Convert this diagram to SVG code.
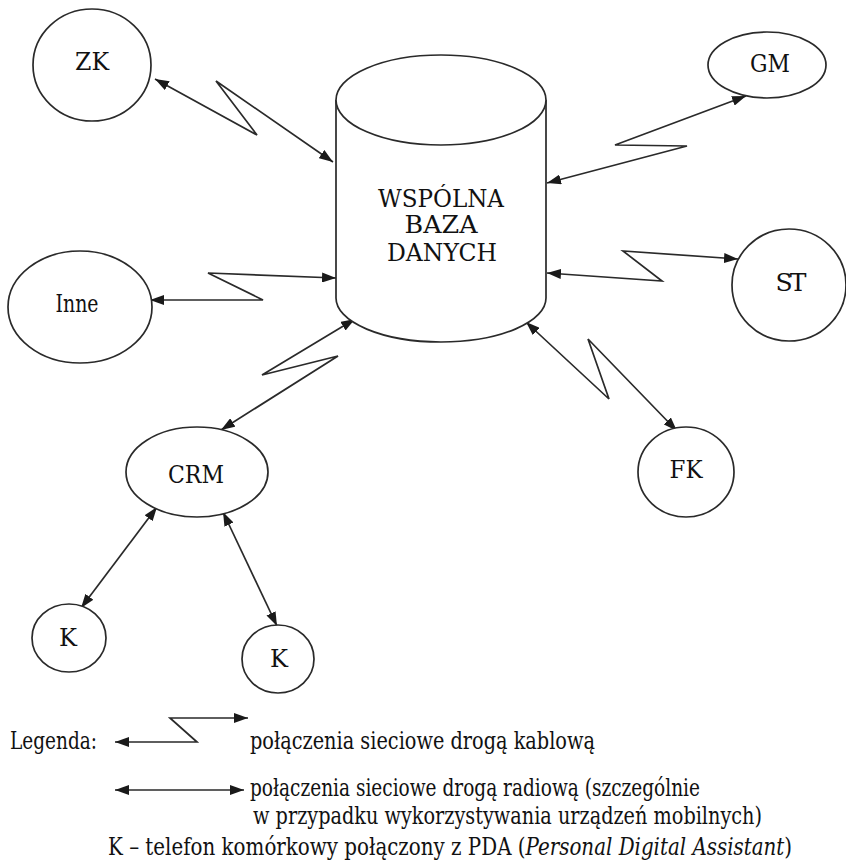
<svg xmlns="http://www.w3.org/2000/svg" width="846" height="861" viewBox="0 0 846 861">
  <style>
    .node { fill: #ffffff; stroke: #2a2a2a; stroke-width: 1.7; }
    .lbl { font-family: "DejaVu Serif", "Liberation Serif", serif; font-size: 25px; fill: #111111; text-anchor: middle; }
    .leg { font-family: "DejaVu Serif", "Liberation Serif", serif; font-size: 24px; fill: #111111; }
    .link { fill: none; stroke: #2a2a2a; stroke-width: 1.7; stroke-linejoin: miter; marker-start: url(#tip); marker-end: url(#tip); }
  </style>
  <defs>
    <marker id="tip" viewBox="0 0 14 10" refX="14" refY="5" markerWidth="14" markerHeight="10" markerUnits="userSpaceOnUse" orient="auto-start-reverse">
      <path d="M0,0 L14,5 L0,10 Z" fill="#1a1a1a"/>
    </marker>
  </defs>
  <rect width="846" height="861" fill="#ffffff"/>

  <!-- connectors -->
  <g id="connectors">
    <!-- cable links (zigzag) -->
    <polyline class="link" points="155,79 257,135 216,81 333,162"/>
    <polyline class="link" points="547,183 687,146 615,145 746,96"/>
    <polyline class="link" points="150,300 263,300 208,273 336,278"/>
    <polyline class="link" points="355,319 262,375 338,356 221,430"/>
    <polyline class="link" points="547,273 662,281 623,251 738,259"/>
    <polyline class="link" points="526,322 609,399 588,339 677,431"/>
    <!-- radio links (straight) -->
    <line class="link" x1="157" y1="507" x2="81" y2="608"/>
    <line class="link" x1="223" y1="512" x2="277" y2="626"/>
  </g>

  <!-- shared database -->
  <g id="db">
    <path class="node" d="M336,100 L336,298 A105,44 0 0 0 546,298 L546,100"/>
    <ellipse class="node" cx="441" cy="100" rx="105" ry="45"/>
    <text class="lbl" x="441" y="207" textLength="126" lengthAdjust="spacingAndGlyphs">WSPÓLNA</text>
    <text class="lbl" x="441" y="233" textLength="73" lengthAdjust="spacingAndGlyphs">BAZA</text>
    <text class="lbl" x="442" y="261" textLength="110" lengthAdjust="spacingAndGlyphs">DANYCH</text>
  </g>

  <g id="zk">
    <ellipse class="node" cx="92" cy="65" rx="59" ry="56"/>
    <text class="lbl" x="92" y="70" textLength="34" lengthAdjust="spacingAndGlyphs">ZK</text>
  </g>
  <g id="gm">
    <ellipse class="node" cx="767" cy="65" rx="59" ry="33"/>
    <text class="lbl" x="770" y="72" textLength="40" lengthAdjust="spacingAndGlyphs">GM</text>
  </g>
  <g id="inne">
    <ellipse class="node" cx="80" cy="307" rx="72" ry="56"/>
    <text class="lbl" x="77" y="312" textLength="43" lengthAdjust="spacingAndGlyphs">Inne</text>
  </g>
  <g id="st">
    <ellipse class="node" cx="789" cy="285" rx="57" ry="56"/>
    <text class="lbl" x="791" y="291" textLength="31" lengthAdjust="spacing">ST</text>
  </g>
  <g id="fk">
    <ellipse class="node" cx="686" cy="472" rx="48" ry="45"/>
    <text class="lbl" x="686" y="478" textLength="33" lengthAdjust="spacingAndGlyphs">FK</text>
  </g>
  <g id="crm">
    <ellipse class="node" cx="197" cy="472" rx="71" ry="45"/>
    <text class="lbl" x="196" y="483" textLength="56" lengthAdjust="spacingAndGlyphs">CRM</text>
  </g>
  <g id="k1">
    <ellipse class="node" cx="69" cy="638" rx="37" ry="34"/>
    <text class="lbl" x="68" y="646" textLength="18" lengthAdjust="spacingAndGlyphs">K</text>
  </g>
  <g id="k2">
    <ellipse class="node" cx="278" cy="659" rx="36" ry="34"/>
    <text class="lbl" x="279" y="667" textLength="18" lengthAdjust="spacingAndGlyphs">K</text>
  </g>

  <!-- legend -->
  <g id="legend">
    <text class="leg" x="10" y="749" textLength="87" lengthAdjust="spacingAndGlyphs">Legenda:</text>
    <polyline class="link" points="115,742 197,742 170,718 248,718"/>
    <text class="leg" x="250" y="749" textLength="345" lengthAdjust="spacingAndGlyphs">połączenia sieciowe drogą kablową</text>
    <line class="link" x1="115" y1="790" x2="244" y2="790"/>
    <text class="leg" x="250" y="796" textLength="450" lengthAdjust="spacingAndGlyphs">połączenia sieciowe drogą radiową (szczególnie</text>
    <text class="leg" x="253" y="824" textLength="509" lengthAdjust="spacingAndGlyphs">w przypadku wykorzystywania urządzeń mobilnych)</text>
    <text class="leg" x="108" y="855" textLength="684" lengthAdjust="spacingAndGlyphs">K – telefon komórkowy połączony z PDA (<tspan font-style="italic">Personal Digital Assistant</tspan>)</text>
  </g>
</svg>
